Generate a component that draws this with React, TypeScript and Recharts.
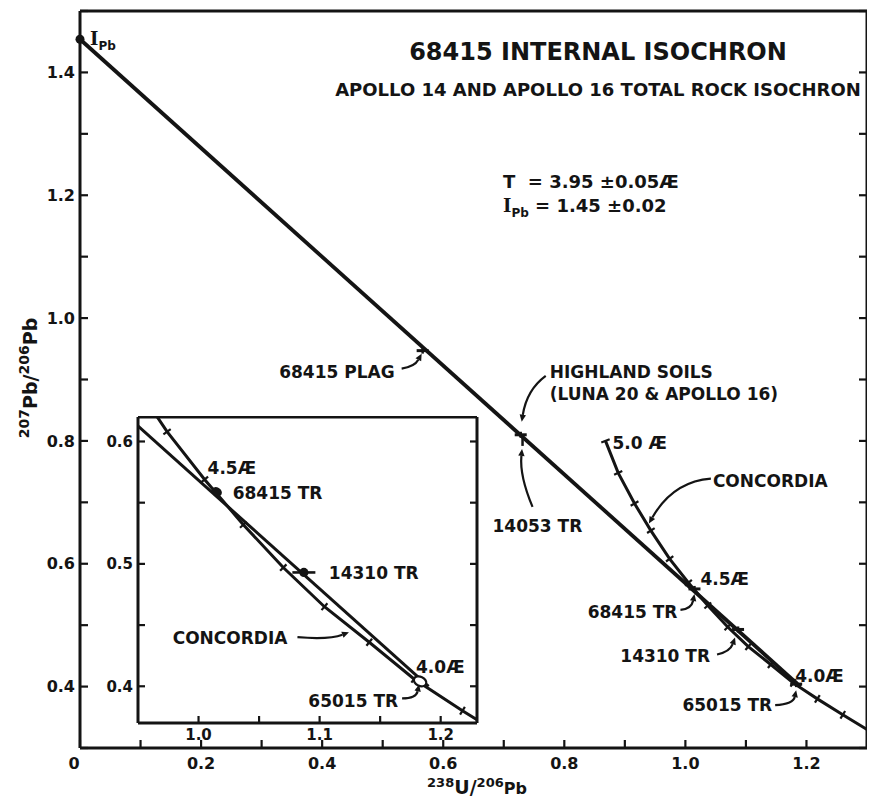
import React from 'react';
import { ComposedChart, Scatter, XAxis, YAxis, ErrorBar } from 'recharts';

const INK = '#141414';
const FONT = '"DejaVu Sans", "Liberation Sans", sans-serif';

// main frame ticks
const mainXTicks = [0, 0.1, 0.2, 0.3, 0.4, 0.5, 0.6, 0.7, 0.8, 0.9, 1.0, 1.1, 1.2, 1.3];
const mainXLabels = ['0', '', '0.2', '', '0.4', '', '0.6', '', '0.8', '', '1.0', '', '1.2', ''];
const mainYTicks = [0.3, 0.4, 0.5, 0.6, 0.7, 0.8, 0.9, 1.0, 1.1, 1.2, 1.3, 1.4, 1.5];
const mainYLabels = ['', '0.4', '', '0.6', '', '0.8', '', '1.0', '', '1.2', '', '1.4', ''];

// inset frame ticks
const insetXTicks = [1.0, 1.05, 1.1, 1.15, 1.2];
const insetXLabels = ['1.0', '', '1.1', '', '1.2'];
const insetYTicks = [0.4, 0.45, 0.5, 0.55, 0.6];
const insetYLabels = ['0.4', '', '0.5', '', '0.6'];

// isochron (238U/206Pb, 207Pb/206Pb)
const isochronU = [0, 1.19];
const isochronPb = [1.454, 0.4];

// concordia, age marks in AE
const concordiaAge = [5.0, 4.9, 4.8, 4.7, 4.6, 4.5, 4.4, 4.3, 4.2, 4.1, 4.0, 3.9, 3.8];
const concordiaU = [0.868, 0.889, 0.916, 0.943, 0.974, 1.005, 1.037, 1.07, 1.104, 1.141, 1.178, 1.218, 1.26];
const concordiaPb = [0.8, 0.748, 0.698, 0.654, 0.608, 0.569, 0.532, 0.497, 0.465, 0.436, 0.406, 0.38, 0.354];
const concordiaEndU = 1.3;
const concordiaEndPb = 0.33;

// samples
const sampleNames = ['IPb', '68415 PLAG', 'HIGHLAND SOILS', '14053 TR', '68415 TR', '14310 TR', '65015 TR'];
const sampleU = [0, 0.566, 0.728, 0.731, 1.015, 1.087, 1.183];
const samplePb = [1.454, 0.947, 0.81, 0.8, 0.559, 0.493, 0.404];
const sampleUErr = [0, 0, 0, 0, 0, 0.0095, 0];

const isochronData = isochronU.map((x, i) => ({ x, y: isochronPb[i] }));

const concordiaPts = [
  ...concordiaAge.map((age, i) => ({ x: concordiaU[i], y: concordiaPb[i], age: age as number | null })),
  { x: concordiaEndU, y: concordiaEndPb, age: null as number | null },
];
const concordiaData = concordiaPts.map((p, i, arr) => {
  const a = arr[Math.max(0, i - 1)];
  const b = arr[Math.min(arr.length - 1, i + 1)];
  const tx = b.x - a.x;
  const ty = -(b.y - a.y);
  const len = Math.hypot(tx, ty) || 1;
  return { ...p, nx: -ty / len, ny: tx / len };
});

const sampleData = sampleNames.map((name, i) => ({ name, x: sampleU[i], y: samplePb[i], xErr: sampleUErr[i] }));
const insetSamples = sampleData.filter((d) => d.x > 0.95 && d.x < 1.23);

type Note = { lines: string[]; dx: number; dy: number; end?: boolean; arrow?: number[] };

const LABEL_SIZE = 17;
const LINE_GAP = 22;

const mainNotes: Record<string, Note> = {
  '68415 PLAG': { lines: ['68415 PLAG'], dx: -28, dy: 27, end: true, arrow: [-21, 18, -8, 16, -1, 3] },
  'HIGHLAND SOILS': { lines: ['HIGHLAND SOILS', '(LUNA 20 & APOLLO 16)'], dx: 29, dy: -57, arrow: [25, -59, 6, -45, 1, -13] },
  '14053 TR': { lines: ['14053 TR'], dx: -30, dy: 91, arrow: [10, 66, -3, 35, -0.5, 8] },
  '68415 TR': { lines: ['68415 TR'], dx: -17, dy: 29, end: true, arrow: [-14, 21, -3, 20, 0, 5] },
  '14310 TR': { lines: ['14310 TR'], dx: -28, dy: 33, end: true, arrow: [-21, 25, -8, 22, -3, 8] },
  '65015 TR': { lines: ['65015 TR'], dx: -24, dy: 27, end: true, arrow: [-21, 21, -3, 20, 0, 6] },
};

const insetNotes: Record<string, Note> = {
  '68415 TR': { lines: ['68415 TR'], dx: 16, dy: 7.5 },
  '14310 TR': { lines: ['14310 TR'], dx: 25, dy: 7 },
  '65015 TR': { lines: ['65015 TR'], dx: -22, dy: 25.5, end: true, arrow: [-18, 17, -4, 17, -1, 3] },
};

const mainAgeNotes: Record<string, Note> = {
  '5': { lines: ['5.0 Æ'], dx: 7, dy: 8 },
  '4.7': { lines: ['CONCORDIA'], dx: 62, dy: -44, arrow: [60, -52, 22, -49, -2, -7] },
  '4.5': { lines: ['4.5Æ'], dx: 12, dy: 2 },
  '4': { lines: ['4.0Æ'], dx: 2, dy: -1 },
};

const insetAgeNotes: Record<string, Note> = {
  '4.5': { lines: ['4.5Æ'], dx: 3, dy: -5 },
  '4.2': { lines: ['CONCORDIA'], dx: -37, dy: 37, end: true, arrow: [-27, 30.5, 5, 33, 24.5, 25.5] },
  '4': { lines: ['4.0Æ'], dx: 2, dy: -6 },
};

function Arrow({ cx, cy, a }: { cx: number; cy: number; a: number[] }) {
  const [sx, sy, qx, qy, ex, ey] = a;
  const x0 = cx + sx, y0 = cy + sy, x1 = cx + qx, y1 = cy + qy, x2 = cx + ex, y2 = cy + ey;
  const ang = Math.atan2(y2 - y1, x2 - x1);
  const L = 7, W = 3.2;
  const bx = x2 - L * Math.cos(ang), by = y2 - L * Math.sin(ang);
  const px = -Math.sin(ang) * W, py = Math.cos(ang) * W;
  return (
    <g>
      <path d={`M${x0},${y0} Q${x1},${y1} ${bx},${by}`} fill="none" stroke={INK} strokeWidth={2.2} />
      <polygon points={`${x2},${y2} ${bx + px},${by + py} ${bx - px},${by - py}`} fill={INK} />
    </g>
  );
}

function NoteText({ cx, cy, note }: { cx: number; cy: number; note: Note }) {
  return (
    <g>
      {note.lines.map((t, i) => (
        <text
          key={i}
          x={cx + note.dx}
          y={cy + note.dy + i * LINE_GAP}
          textAnchor={note.end ? 'end' : 'start'}
          fontFamily={FONT}
          fontWeight={700}
          fontSize={LABEL_SIZE}
          fill={INK}
        >
          {t}
        </text>
      ))}
      {note.arrow && <Arrow cx={cx} cy={cy} a={note.arrow} />}
    </g>
  );
}

const makeConcordiaShape = (notes: Record<string, Note>) => (p: any) => {
  const { cx, cy, payload } = p;
  if (payload.age == null || cx == null) return <g />;
  const h = 4.5;
  const note = notes[String(payload.age)];
  return (
    <g>
      <line x1={cx - payload.nx * h} y1={cy - payload.ny * h} x2={cx + payload.nx * h} y2={cy + payload.ny * h} stroke={INK} strokeWidth={2.2} />
      {note && <NoteText cx={cx} cy={cy} note={note} />}
    </g>
  );
};

const mainSampleShape = (p: any) => {
  const { cx, cy, payload } = p;
  const name = payload.name;
  if (name === 'IPb') {
    return (
      <g>
        <circle cx={cx} cy={cy} r={4.5} fill={INK} />
        <text x={cx + 10} y={cy + 6} fontFamily={FONT} fontWeight={700} fill={INK}>
          <tspan fontFamily='"DejaVu Serif", serif' fontSize={18}>I</tspan>
          <tspan fontSize={12} dy={5}>Pb</tspan>
        </text>
      </g>
    );
  }
  const note = mainNotes[name];
  let mark;
  if (name === '14053 TR') {
    mark = <line x1={cx} y1={cy - 5} x2={cx} y2={cy + 5} stroke={INK} strokeWidth={2.5} />;
  } else {
    mark = (
      <g>
        <line x1={cx - 6} y1={cy} x2={cx + 6} y2={cy} stroke={INK} strokeWidth={3} />
        <line x1={cx} y1={cy - 3} x2={cx} y2={cy + 3} stroke={INK} strokeWidth={2.5} />
      </g>
    );
  }
  return (
    <g>
      {mark}
      {note && <NoteText cx={cx} cy={cy} note={note} />}
    </g>
  );
};

const insetSampleShape = (p: any) => {
  const { cx, cy, payload } = p;
  const name = payload.name;
  let mark;
  if (name === '68415 TR') {
    mark = <ellipse cx={cx} cy={cy} rx={5.5} ry={4.2} fill={INK} transform={`rotate(30 ${cx} ${cy})`} />;
  } else if (name === '14310 TR') {
    mark = <circle cx={cx} cy={cy} r={4.6} fill={INK} />;
  } else {
    mark = <ellipse cx={cx} cy={cy} rx={6.5} ry={4.6} fill="#fff" stroke={INK} strokeWidth={2.2} transform={`rotate(25 ${cx} ${cy})`} />;
  }
  const note = insetNotes[name];
  return (
    <g>
      {mark}
      {note && <NoteText cx={cx} cy={cy} note={note} />}
    </g>
  );
};

const noShape = () => <g />;

const tickText = (size: number) => ({ fill: INK, fontSize: size, fontWeight: 700, fontFamily: FONT });
const axisLine = { stroke: INK, strokeWidth: 3 };
const tickLine = { stroke: INK, strokeWidth: 2.2 };
const blank = () => '';

// bottom tick label of the main frame; the "0" sits a little left of the corner
const MainXTick = (p: any) => {
  const { x, y, payload, index } = p;
  const label = mainXLabels[index];
  if (!label) return <g />;
  return (
    <text x={x + (payload.value === 0 ? -6 : 0)} y={y} dy="0.71em" textAnchor="middle" {...tickText(16)}>
      {label}
    </text>
  );
};

function MainChart() {
  return (
    <ComposedChart width={867} height={800} margin={{ top: 2, right: 7, bottom: 0, left: 0 }}>
      <XAxis type="number" dataKey="x" domain={[0, 1.3]} ticks={mainXTicks} interval={0}
        height={60} tickSize={-8} tickMargin={18} axisLine={axisLine} tickLine={tickLine} tick={<MainXTick />} />
      <XAxis xAxisId="top" orientation="top" type="number" domain={[0, 1.3]} ticks={mainXTicks} interval={0}
        allowDataOverflow tickFormatter={blank} height={1} tickSize={-8} axisLine={axisLine} tickLine={tickLine} />
      <YAxis type="number" dataKey="y" domain={[0.3, 1.5]} ticks={mainYTicks} interval={0}
        tickFormatter={(v: number, i: number) => mainYLabels[i]} width={72}
        tickSize={-8} tickMargin={13} axisLine={axisLine} tickLine={tickLine} tick={tickText(16)} />
      <YAxis yAxisId="right" orientation="right" type="number" domain={[0.3, 1.5]} ticks={mainYTicks} interval={0}
        allowDataOverflow tickFormatter={blank} width={1} tickSize={-8} axisLine={axisLine} tickLine={tickLine} />
      <Scatter data={isochronData} line={{ stroke: INK, strokeWidth: 3.8 }} shape={noShape} isAnimationActive={false} />
      <Scatter data={concordiaData} line={{ stroke: INK, strokeWidth: 3 }} shape={makeConcordiaShape(mainAgeNotes)} isAnimationActive={false} />
      <Scatter data={sampleData} shape={mainSampleShape} isAnimationActive={false} />
    </ComposedChart>
  );
}

function InsetChart() {
  return (
    <ComposedChart width={382} height={340} margin={{ top: 0, right: 2, bottom: 0, left: 0 }}>
      <XAxis type="number" dataKey="x" domain={[0.95, 1.23]} ticks={insetXTicks} interval={0} allowDataOverflow
        tickFormatter={(v: number, i: number) => insetXLabels[i]} height={33}
        tickSize={-7} tickMargin={13} axisLine={axisLine} tickLine={tickLine} tick={tickText(15)} />
      <XAxis xAxisId="top" orientation="top" type="number" domain={[0.95, 1.23]} ticks={insetXTicks} interval={0}
        allowDataOverflow tickFormatter={blank} height={1} tickSize={-7} axisLine={axisLine} tickLine={tickLine} />
      <YAxis type="number" dataKey="y" domain={[0.37, 0.62]} ticks={insetYTicks} interval={0} allowDataOverflow
        tickFormatter={(v: number, i: number) => insetYLabels[i]} width={40}
        tickSize={-7} tickMargin={12} axisLine={axisLine} tickLine={tickLine} tick={tickText(15)} />
      <YAxis yAxisId="right" orientation="right" type="number" domain={[0.37, 0.62]} ticks={insetYTicks} interval={0}
        allowDataOverflow tickFormatter={blank} width={1} tickSize={-7} axisLine={axisLine} tickLine={tickLine} />
      <Scatter data={isochronData} line={{ stroke: INK, strokeWidth: 3 }} shape={noShape} isAnimationActive={false} />
      <Scatter data={concordiaData} line={{ stroke: INK, strokeWidth: 3 }} shape={makeConcordiaShape(insetAgeNotes)} isAnimationActive={false} />
      <Scatter data={insetSamples} shape={insetSampleShape} isAnimationActive={false}>
        <ErrorBar dataKey="xErr" direction="x" width={0} stroke={INK} strokeWidth={2.6} />
      </Scatter>
    </ComposedChart>
  );
}

function Overlay() {
  const t = { fontFamily: FONT, fontWeight: 700, fill: INK } as const;
  return (
    <svg width={867} height={800} style={{ position: 'absolute', left: 0, top: 0, overflow: 'visible', pointerEvents: 'none' }}>
      <text x={590} y={52} textAnchor="middle" fontSize={24} {...t}>68415 INTERNAL ISOCHRON</text>
      <text x={590} y={88} textAnchor="middle" fontSize={18} {...t}>APOLLO 14 AND APOLLO 16 TOTAL ROCK ISOCHRON</text>
      <text x={495} y={180} fontSize={18} {...t} style={{ whiteSpace: 'pre' }}>T  = 3.95 ±0.05Æ</text>
      <text x={495} y={204} fontSize={18} {...t} style={{ whiteSpace: 'pre' }}>
        <tspan fontFamily='"DejaVu Serif", serif'>I</tspan>
        <tspan fontSize={12} dy={5}>Pb</tspan>
        <tspan dy={-5}> = 1.45 ±0.02</tspan>
      </text>
      <text x={469} y={786} textAnchor="middle" fontSize={19} {...t}>
        <tspan fontSize={13} dy={-7}>238</tspan>
        <tspan dy={7}>U/</tspan>
        <tspan fontSize={13} dy={-7}>206</tspan>
        <tspan fontSize={16} dy={7}>Pb</tspan>
      </text>
      <text transform="rotate(-90)" x={-370} y={29} textAnchor="middle" fontSize={19} {...t}>
        <tspan fontSize={14} dy={-8}>207</tspan>
        <tspan dy={8}>Pb/</tspan>
        <tspan fontSize={14} dy={-8}>206</tspan>
        <tspan dy={8}>Pb</tspan>
      </text>
    </svg>
  );
}

export default function App() {
  return (
    <div style={{ position: 'relative', width: 867, height: 800, marginBottom: -8, background: '#fff' }}>
      <div style={{ position: 'absolute', left: 0, top: 0 }}>
        <MainChart />
      </div>
      <div style={{ position: 'absolute', left: 90, top: 408 }}>
        <InsetChart />
      </div>
      <Overlay />
    </div>
  );
}
